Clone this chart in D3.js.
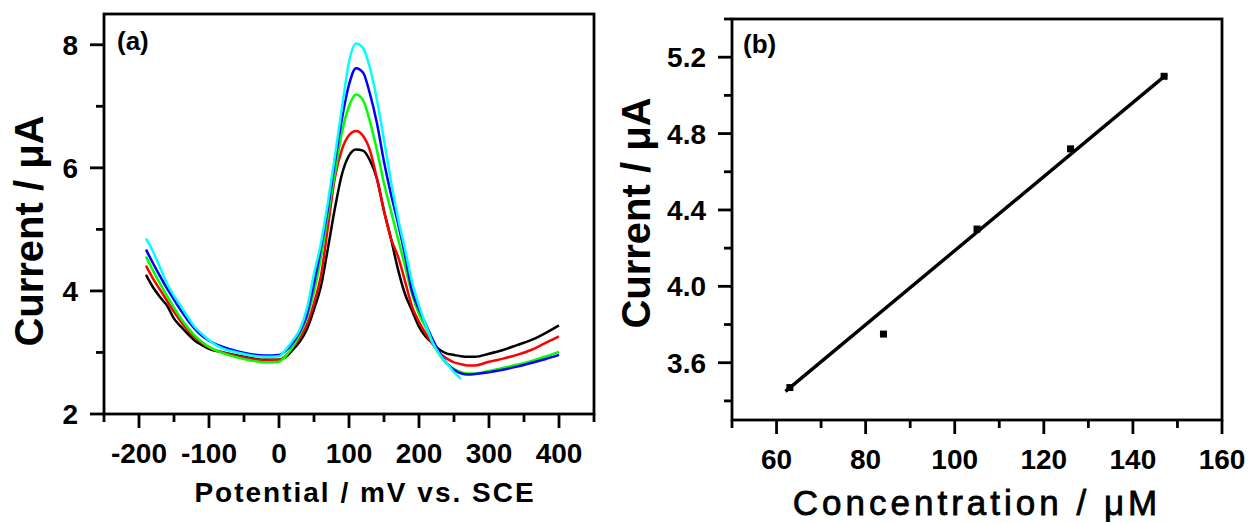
<!DOCTYPE html>
<html>
<head>
<meta charset="utf-8">
<script src="https://cdn.jsdelivr.net/npm/d3@7/dist/d3.min.js"></script>
<style>
  html, body { margin: 0; padding: 0; background: #fff; }
  svg { display: block; }
  text { font-family: "Liberation Sans", Arial, sans-serif; fill: #000; }
</style>
</head>
<body>
<svg id="fig" width="1254" height="523"></svg>
<script>
// ---- Panel (a): differential pulse voltammograms ----
const potential = [-190, -180, -170, -160, -150, -140, -130, -120, -110, -100, -80, -60, -40, -20, 0,
  10, 20, 30, 40, 50, 60, 70, 80, 90, 100, 110, 120, 130, 140, 150, 160, 170, 180, 190, 200,
  210, 220, 230, 240, 250, 260, 270, 280, 300, 320, 340, 360, 380, 400];

const currentBlack = [4.26, 4.06, 3.90, 3.76, 3.55, 3.42, 3.30, 3.19, 3.12, 3.06, 3.00, 2.95, 2.91, 2.88, 2.88,
  2.93, 3.05, 3.18, 3.38, 3.70, 4.08, 4.70, 5.35, 5.90, 6.20, 6.30, 6.28, 6.12, 5.82, 5.30, 4.85, 4.35, 3.95, 3.68, 3.42,
  3.25, 3.14, 3.04, 2.98, 2.96, 2.94, 2.93, 2.93, 2.98, 3.04, 3.12, 3.20, 3.31, 3.44];

const currentRed = [4.41, 4.20, 4.02, 3.84, 3.66, 3.50, 3.36, 3.24, 3.15, 3.08, 3.00, 2.94, 2.90, 2.87, 2.88,
  2.95, 3.08, 3.24, 3.46, 3.80, 4.25, 5.05, 5.85, 6.30, 6.53, 6.60, 6.52, 6.28, 5.82, 5.30, 4.85, 4.56, 4.16, 3.75, 3.50,
  3.30, 3.13, 2.98, 2.90, 2.84, 2.81, 2.79, 2.79, 2.85, 2.90, 2.96, 3.04, 3.15, 3.26];

const currentGreen = [4.56, 4.33, 4.12, 3.92, 3.73, 3.55, 3.40, 3.27, 3.17, 3.09, 2.99, 2.92, 2.87, 2.84, 2.85,
  2.95, 3.10, 3.30, 3.58, 3.98, 4.55, 5.25, 5.92, 6.58, 7.00, 7.19, 7.10, 6.75, 6.28, 5.75, 5.30, 4.85, 4.40, 3.95, 3.62,
  3.40, 3.15, 2.95, 2.82, 2.73, 2.68, 2.66, 2.66, 2.70, 2.75, 2.80, 2.86, 2.93, 3.01];

const currentBlue = [4.67, 4.45, 4.24, 4.04, 3.86, 3.68, 3.52, 3.38, 3.27, 3.19, 3.09, 3.02, 2.97, 2.95, 2.96,
  3.03, 3.16, 3.34, 3.62, 4.12, 4.70, 5.35, 6.10, 6.80, 7.35, 7.62, 7.55, 7.20, 6.72, 6.10, 5.57, 5.10, 4.58, 4.00, 3.70,
  3.45, 3.20, 2.98, 2.82, 2.72, 2.66, 2.64, 2.65, 2.68, 2.72, 2.77, 2.83, 2.89, 2.96];

const currentCyan = [4.85, 4.64, 4.38, 4.12, 3.92, 3.75, 3.57, 3.41, 3.30, 3.20, 3.06, 3.00, 2.95, 2.93, 2.94,
  3.05, 3.20, 3.38, 3.72, 4.28, 4.78, 5.45, 6.20, 6.98, 7.72, 8.02, 7.95, 7.62, 7.10, 6.45, 5.78, 5.18, 4.68, 4.15, 3.76,
  3.44, 3.15, 2.96, 2.82, 2.68, 2.57, null, null, null, null, null, null, null, null];

const seriesA = [
  { name: "black", color: "#000000", values: currentBlack },
  { name: "red",   color: "#ff0000", values: currentRed },
  { name: "green", color: "#00ff00", values: currentGreen },
  { name: "blue",  color: "#0000ff", values: currentBlue },
  { name: "cyan",  color: "#00ffff", values: currentCyan }
];

const potentialTicks = [-200, -100, 0, 100, 200, 300, 400];
const potentialMinor = [-250, -150, -50, 50, 150, 250, 350, 450];
const currentTicksA = [2, 4, 6, 8];
const currentMinorA = [3, 5, 7];

// ---- Panel (b): calibration plot ----
const concentration = [63, 84, 105, 126, 147];
const peakCurrent = [3.47, 3.75, 4.30, 4.72, 5.10];
const fitConcentration = [62, 147.6];
const fitCurrent = [3.45, 5.11];

const concTicks = [60, 80, 100, 120, 140, 160];
const concMinor = [50, 70, 90, 110, 130, 150];
const currentTicksB = [3.6, 4.0, 4.4, 4.8, 5.2];
const currentMinorB = [3.4, 3.8, 4.2, 4.6, 5.0, 5.4];

const svg = d3.select("#fig");
svg.append("rect").attr("width", 1254).attr("height", 523).attr("fill", "#fff");

const MAJOR = 14, MINOR = 8, AXW = 2.8;

function drawFrame(g, x, y, xt, xm, yt, ym, xfmt, yfmt) {
  const [x0, x1] = x.range();
  const [y0, y1] = y.range(); // y0 bottom, y1 top
  const tickG = g.append("g").attr("stroke", "#000").attr("stroke-width", AXW);
  // bottom ticks
  xt.forEach(v => tickG.append("line").attr("x1", x(v)).attr("x2", x(v)).attr("y1", y0).attr("y2", y0 + MAJOR));
  xm.forEach(v => tickG.append("line").attr("x1", x(v)).attr("x2", x(v)).attr("y1", y0).attr("y2", y0 + MINOR));
  // left ticks
  yt.forEach(v => tickG.append("line").attr("y1", y(v)).attr("y2", y(v)).attr("x1", x0).attr("x2", x0 - MAJOR));
  ym.forEach(v => tickG.append("line").attr("y1", y(v)).attr("y2", y(v)).attr("x1", x0).attr("x2", x0 - MINOR));
  // box
  g.append("rect").attr("x", x0).attr("y", y1).attr("width", x1 - x0).attr("height", y0 - y1)
    .attr("fill", "none").attr("stroke", "#000").attr("stroke-width", AXW);
  // labels
  xt.forEach(v => g.append("text").attr("x", x(v)).attr("y", y0 + 49).attr("text-anchor", "middle")
    .attr("font-size", 28).attr("font-weight", "bold").text(xfmt(v)));
  yt.forEach(v => g.append("text").attr("x", x0 - MAJOR - 12).attr("y", y(v)).attr("dy", "0.36em")
    .attr("text-anchor", "end").attr("font-size", 28).attr("font-weight", "bold").text(yfmt(v)));
}

// Panel (a)
const xA = d3.scaleLinear().domain([-250, 450]).range([104, 594]);
const yA = d3.scaleLinear().domain([2, 8.5]).range([414, 14]);
const gA = svg.append("g");

const lineA = d3.line()
  .defined(d => d[1] != null)
  .x(d => xA(d[0])).y(d => yA(d[1]))
  .curve(d3.curveMonotoneX);

seriesA.forEach(s => {
  gA.append("path")
    .datum(potential.map((p, i) => [p, s.values[i]]))
    .attr("fill", "none").attr("stroke", s.color).attr("stroke-width", 2.5)
    .attr("stroke-linejoin", "round")
    .attr("d", lineA);
});

drawFrame(gA, xA, yA, potentialTicks, potentialMinor, currentTicksA, currentMinorA,
  v => d3.format("d")(v).replace("−", "-"), v => d3.format("d")(v));

gA.append("text").attr("x", 117).attr("y", 50).attr("font-size", 26).attr("font-weight", "bold").text("(a)");
gA.append("text").attr("x", 365).attr("y", 502).attr("text-anchor", "middle")
  .attr("font-size", 28).attr("font-weight", "bold").attr("letter-spacing", 2)
  .text("Potential / mV vs. SCE");
gA.append("text").attr("transform", "translate(43,231) rotate(-90)").attr("text-anchor", "middle")
  .attr("font-size", 40).attr("font-weight", "bold").text("Current / μA");

// Panel (b)
const xB = d3.scaleLinear().domain([50, 160]).range([732, 1222]);
const yB = d3.scaleLinear().domain([3.3, 5.4]).range([420, 19]);
const gB = svg.append("g");

gB.append("path")
  .datum(fitConcentration.map((c, i) => [c, fitCurrent[i]]))
  .attr("fill", "none").attr("stroke", "#000").attr("stroke-width", 3.4)
  .attr("d", d3.line().x(d => xB(d[0])).y(d => yB(d[1])));

gB.selectAll("rect.pt")
  .data(concentration.map((c, i) => [c, peakCurrent[i]]))
  .join("rect").attr("class", "pt")
  .attr("x", d => xB(d[0]) - 3.5).attr("y", d => yB(d[1]) - 3.5)
  .attr("width", 7).attr("height", 7).attr("fill", "#000");

drawFrame(gB, xB, yB, concTicks, concMinor, currentTicksB, currentMinorB,
  v => d3.format("d")(v), v => d3.format(".1f")(v));

gB.append("text").attr("x", 743).attr("y", 53).attr("font-size", 26).attr("font-weight", "bold").text("(b)");
gB.append("text").attr("x", 977).attr("y", 515).attr("text-anchor", "middle")
  .attr("font-size", 35).attr("letter-spacing", 4)
  .attr("stroke", "#000").attr("stroke-width", 0.8)
  .text("Concentration / μM");
gB.append("text").attr("transform", "translate(650,213) rotate(-90)").attr("text-anchor", "middle")
  .attr("font-size", 40).attr("font-weight", "bold").text("Current / μA");
</script>
</body>
</html>
